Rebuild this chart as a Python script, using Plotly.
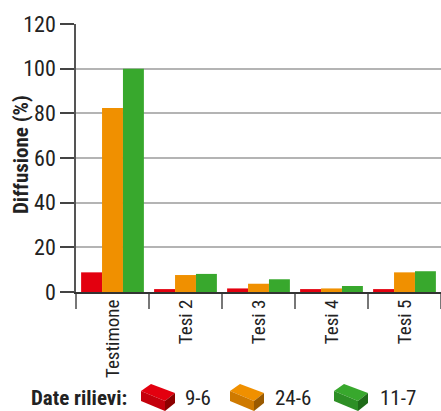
import plotly.graph_objects as go

# Diffusione per tesi e data di rilievo
categories = ["Testimone", "Tesi 2", "Tesi 3", "Tesi 4", "Tesi 5"]
dates = ["9-6", "24-6", "11-7"]
values_9_6 = [8.8, 1.3, 1.6, 1.3, 1.3]
values_24_6 = [82.4, 7.6, 3.7, 1.6, 8.8]
values_11_7 = [100.0, 8.1, 5.7, 2.7, 9.3]
y_ticks = [0, 20, 40, 60, 80, 100, 120]

series = [values_9_6, values_24_6, values_11_7]
colors = ["#e3000f", "#f09000", "#38a82d"]
front_colors = ["#c4000c", "#cf7a00", "#2d8f25"]
side_colors = ["#8c0000", "#9a5a00", "#1e6b18"]

FONT = "Roboto Condensed, Roboto, sans-serif"
W, H = 441, 411
L, R, T, B = 76, 0, 24, 119
PW, PH = W - L - R, H - T - B


def px(x):
    return (x - L) / PW


def py(y):
    return (H - B - y) / PH


fig = go.Figure()
for name, vals, col in zip(dates, series, colors):
    fig.add_trace(go.Bar(x=categories, y=vals, name=name, marker_color=col,
                         marker_line_width=0, showlegend=False))

fig.update_layout(
    width=W, height=H,
    margin=dict(l=L, r=R, t=T, b=B, pad=0),
    paper_bgcolor="white", plot_bgcolor="white",
    barmode="group", bargap=0.14, bargroupgap=0,
    font=dict(family=FONT, size=21, color="#222222"),
    xaxis=dict(
        type="category", tickson="boundaries", ticks="outside", ticklen=15,
        tickwidth=1.5, tickcolor="#777777", tickangle=-90,
        showline=True, linecolor="#333333", linewidth=2,
        showgrid=False, ticklabelstandoff=-2,
        tickfont=dict(family=FONT, size=19, color="#222222"),
    ),
    yaxis=dict(
        range=[0, 120], tickmode="array", tickvals=y_ticks,
        ticks="outside", ticklen=14, tickwidth=1.5, tickcolor="#444444",
        showline=True, linecolor="#555555", linewidth=1.5,
        showgrid=True, gridcolor="#b4b4b4", gridwidth=1.5, zeroline=False,
        tickfont=dict(family=FONT, size=22, color="#222222"),
    ),
)

# Titolo dell'asse y
fig.add_annotation(x=px(21), y=py(155), xref="paper", yref="paper",
                   text="<b>Diffusione (%)</b>", showarrow=False, textangle=-90,
                   xanchor="center", yanchor="middle",
                   font=dict(family=FONT, size=21, color="#222222"))

# Legenda personalizzata con mattoncini isometrici
fig.add_annotation(x=px(29), y=py(398), xref="paper", yref="paper",
                   text="<b>Date rilievi:</b>", showarrow=False,
                   xanchor="left", yanchor="middle",
                   font=dict(family=FONT, size=21, color="#222222"))


def brick(x0, top, front, side):
    a = (x0, 391)
    b = (x0 + 10, 384)
    c = (x0 + 34, 393)
    d = (x0 + 24, 401)
    h = 10
    faces = [
        ([a, b, c, d], top),
        ([a, d, (d[0], d[1] + h), (a[0], a[1] + h)], front),
        ([d, c, (c[0], c[1] + h), (d[0], d[1] + h)], side),
    ]
    for pts, col in faces:
        path = "M " + " L ".join(f"{px(x):.5f},{py(y):.5f}" for x, y in pts) + " Z"
        fig.add_shape(type="path", path=path, xref="paper", yref="paper",
                      fillcolor=col, line=dict(width=0), layer="above")


legend_x = [141, 230, 334]
label_x = [183, 273, 378]
for bx, lx, name, c1, c2, c3 in zip(legend_x, label_x, dates, colors, front_colors, side_colors):
    brick(bx, c1, c2, c3)
    fig.add_annotation(x=px(lx), y=py(398), xref="paper", yref="paper",
                       text=name, showarrow=False, xanchor="left", yanchor="middle",
                       font=dict(family=FONT, size=21, color="#222222"))

fig.write_html("out.html")
